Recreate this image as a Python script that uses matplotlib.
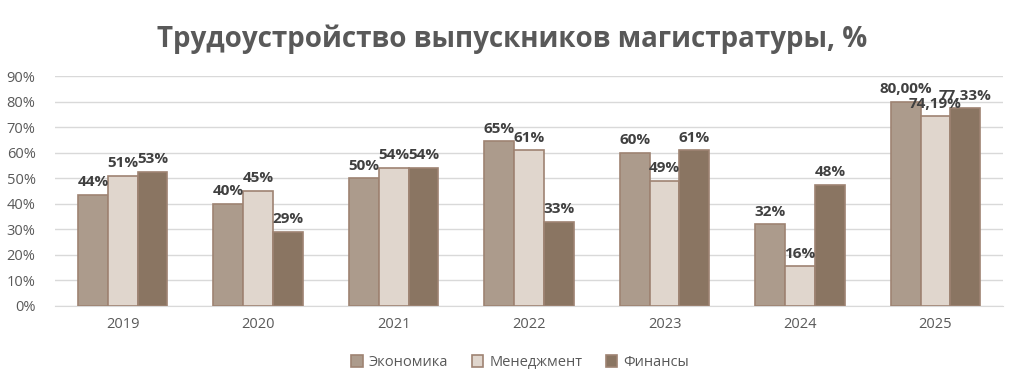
import numpy as np
import matplotlib.pyplot as plt
from matplotlib.ticker import FuncFormatter

# ---------- Data ----------
years = ["2019", "2020", "2021", "2022", "2023", "2024", "2025"]
economics = [43.5, 40, 50, 64.5, 60, 32, 80.0]
management = [51, 45, 54, 61, 49, 15.5, 74.19]
finance = [52.5, 29, 54, 33, 61, 47.5, 77.33]
economics_lbl = ["44%", "40%", "50%", "65%", "60%", "32%", "80,00%"]
management_lbl = ["51%", "45%", "54%", "61%", "49%", "16%", "74,19%"]
finance_lbl = ["53%", "29%", "54%", "33%", "61%", "48%", "77,33%"]

series = [
    ("Экономика", economics, economics_lbl, "#ac9b8c"),
    ("Менеджмент", management, management_lbl, "#e0d6cd"),
    ("Финансы", finance, finance_lbl, "#8a7562"),
]

plt.rcParams["font.family"] = ["Open Sans", "DejaVu Sans"]

fig = plt.figure(figsize=(10.24, 3.89), dpi=100, facecolor="white")
ax = fig.add_axes([0.0537, 0.2134, 0.926, 0.5912])

x = np.arange(len(years))
w = 0.22
for i, (name, vals, lbls, col) in enumerate(series):
    pos = x + (i - 1) * w
    ax.bar(pos, vals, width=w, color=col, edgecolor="#9e8372", linewidth=1.2,
           label=name, zorder=3)
    for px, v, t in zip(pos, vals, lbls):
        ax.annotate(t, (px, v), xytext=(0, 4), textcoords="offset points",
                    ha="center", va="bottom", fontsize=11, fontweight="bold",
                    color="#404040", zorder=4)

ax.set_xlim(-0.5, len(years) - 0.5)
ax.set_ylim(0, 90)
ax.set_yticks(np.arange(0, 91, 10))
ax.yaxis.set_major_formatter(FuncFormatter(lambda v, _: f"{v:.0f}%"))
ax.set_xticks(x)
ax.set_xticklabels(years)
ax.tick_params(axis="both", length=0, labelsize=10.5, colors="#595959")
ax.tick_params(axis="y", pad=14)
ax.tick_params(axis="x", pad=8)
ax.grid(axis="y", color="#d9d9d9", linewidth=1, zorder=0)
for s in ["top", "right", "left"]:
    ax.spines[s].set_visible(False)
ax.spines["bottom"].set_color("#d9d9d9")

fig.text(0.5, 0.9, "Трудоустройство выпускников магистратуры, %",
         ha="center", va="center", fontsize=20, fontweight="bold",
         color="#595959")

fig.legend(loc="center", bbox_to_anchor=(0.508, 0.068), ncol=3, frameon=False,
           fontsize=10.5, handlelength=0.8, handleheight=0.8, handletextpad=0.4,
           columnspacing=1.6, labelcolor="#595959")

fig.savefig("out.png", dpi=100, facecolor="white")
